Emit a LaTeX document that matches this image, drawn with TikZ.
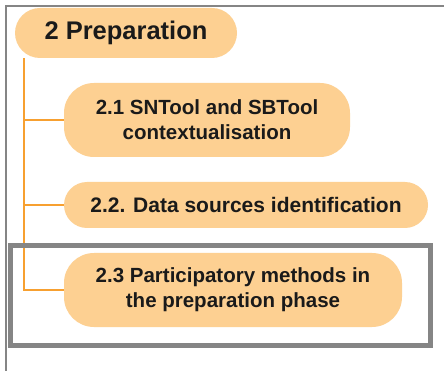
\documentclass[tikz,border=0pt]{standalone}
\usepackage{fontspec}
\setmainfont{Liberation Sans}
\usetikzlibrary{calc}
\begin{document}
\begin{tikzpicture}[x=1pt,y=-1pt,
  pill/.style={fill=pillfill, draw=none, text=textdark, align=center,
    inner sep=0pt, font=\bfseries},
  branch/.style={draw=branchorange, line width=2pt},
  frameline/.style={draw=framegray, line width=2pt},
  focus/.style={draw=framegray, line width=5pt}]
\definecolor{pillfill}{HTML}{FDD092}
\definecolor{branchorange}{HTML}{F7A030}
\definecolor{textdark}{HTML}{1A1A1A}
\definecolor{framegray}{HTML}{858585}
\useasboundingbox (0,0) rectangle (444,371);
\fill[white] (0,0) rectangle (444,371);

% outer frame edges
\draw[frameline] (5.5,371) -- (5.5,6) -- (444,6);

% section nodes
\node[pill, minimum width=222pt, minimum height=50pt, rounded corners=25pt,
  font=\bfseries\fontsize{25.5}{28}\selectfont] (top) at (126,33) {2 Preparation};
\node[pill, minimum width=286pt, minimum height=74pt, rounded corners=30pt,
  font=\bfseries\fontsize{20.5}{25}\selectfont] (n21) at (207,120)
  {2.1 SNTool and SBTool\\contextualisation};
\node[pill, minimum width=364pt, minimum height=46pt, rounded corners=23pt,
  font=\bfseries\fontsize{21}{25}\selectfont] (n22) at (246,205)
  {2.2. Data sources identification};
\node[pill, minimum width=338pt, minimum height=74pt, rounded corners=30pt,
  font=\bfseries\fontsize{20.5}{25}\selectfont] (n23) at (233,290)
  {2.3 Participatory methods in\\the preparation phase};

% tree connectors
\coordinate (trunk) at ($(top.south west)+(9,0)$);
\draw[branch] (trunk) |- (n23.west);
\draw[branch] (trunk) |- (n21.west);
\draw[branch] (trunk) |- (n22.west);

% highlight box
\draw[focus] (10.5,245.5) rectangle (430.5,345.5);
\end{tikzpicture}
\end{document}
